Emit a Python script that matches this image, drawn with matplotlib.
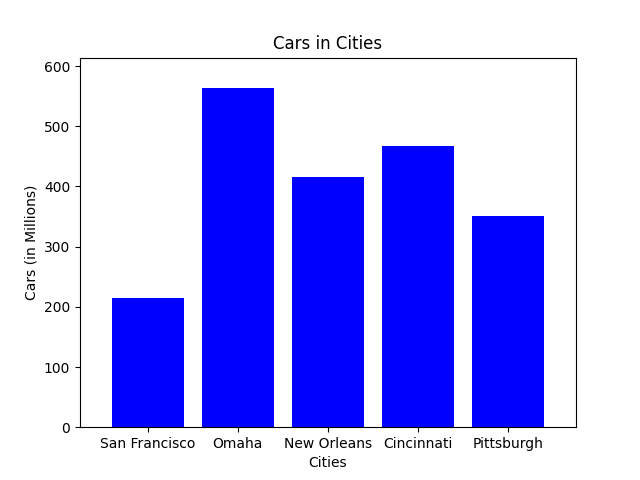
import matplotlib
matplotlib.use("Agg")
import matplotlib.pyplot as plt

cities = ["San Francisco", "Omaha", "New Orleans", "Cincinnati", "Pittsburgh"]
cars = [215, 564, 416, 467, 351]

fig, ax = plt.subplots(figsize=(6.4, 4.8), dpi=100)
ax.bar(cities, cars, color="blue")
ax.set_xlim(-0.75, len(cities) - 0.25)
ax.set_ylim(0, max(cars) + 50)
ax.set_xlabel("Cities")
ax.set_ylabel("Cars (in Millions)")
ax.set_title("Cars in Cities")

plt.savefig("out.png")
